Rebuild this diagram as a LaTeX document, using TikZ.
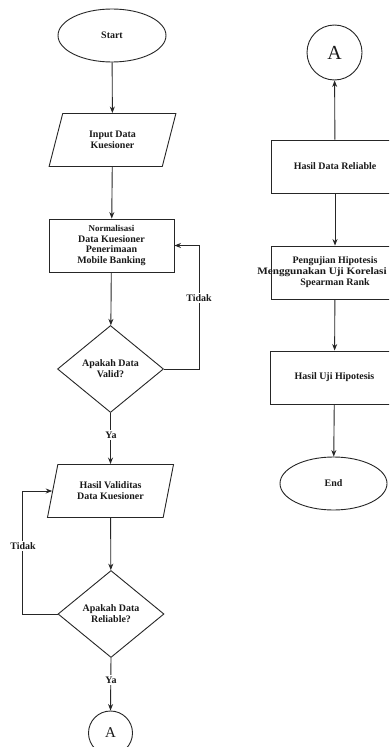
\documentclass[tikz,border=0pt]{standalone}
\usepackage{fontspec}
\setmainfont{Liberation Serif}
\usetikzlibrary{shapes.geometric,arrows.meta}
\begin{document}
\begin{tikzpicture}[x=1bp,y=-1bp,
  every node/.style={font=\bfseries\fontsize{10}{11}\selectfont, align=center, inner sep=0pt, text=black!90},
  ln/.style={draw=black!85, line width=0.9bp},
  arr/.style={ln, -{Stealth[length=6.5bp,width=5bp]}},
  term/.style={ellipse, ln, minimum width=108bp, minimum height=53bp},
  io/.style={trapezium, trapezium left angle=70, trapezium right angle=110, trapezium stretches=true, ln, minimum width=127bp, minimum height=53bp},
  proc/.style={rectangle, ln, minimum width=125bp, minimum height=53bp},
  rproc/.style={rectangle, ln, minimum width=128bp, minimum height=53bp},
  dec/.style={diamond, ln, minimum width=106bp, minimum height=87bp},
  conn/.style={circle, ln, font=\fontsize{15}{15}\selectfont},
  lbl/.style={fill=white, inner sep=1.5bp}
]
\path[use as bounding box] (0,0) rectangle (389,747);
\clip (0,0) rectangle (389,747);
\fill[white] (0,0) rectangle (389,747);

% left column
\node[term] (start) at (112,35.5) {Start};
\node[io] (in) at (112.5,140) {Input Data\\Kuesioner};
\node[proc] (norm) at (111.5,245.5) {\fontsize{9}{10}\selectfont Normalisasi\\Data Kuesioner\\Penerimaan\\Mobile Banking};
\node[dec] (valid) at (110.5,369) {Apakah Data\\Valid?};
\node[io] (hval) at (110.5,491) {Hasil Validitas\\Data Kuesioner};
\node[dec] (rel) at (111,614) {Apakah Data\\Reliable?};
\node[conn, minimum size=44bp] (a1) at (110.5,733) {A};

\draw[arr] (start) -- (in);
\draw[arr] (in) -- (norm);
\draw[arr] (norm) -- (valid);
\draw[arr] (valid.east) -- ++(35,0) |- (norm.east);
\node[lbl] (t1) at (199,298) {Tidak};
\draw[arr] (valid.south) -- (hval.north);
\node[lbl] (y1) at (111,435) {Ya};
\draw[arr] (hval) -- (rel);
\draw[arr] (rel.west) -- ++(-35,0) |- (hval.west);
\node[lbl] (t2) at (23,546) {Tidak};
\draw[arr] (rel.south) -- (a1.north);
\node[lbl] (y2) at (111,680) {Ya};

% right column
\node[conn, minimum size=55bp, font=\fontsize{20}{20}\selectfont] (a2) at (334.5,52.5) {A};
\node[rproc] (hrel) at (335,166.5) {Hasil Data Reliable};
\node[rproc] (uji) at (335,272.5) {Pengujian Hipotesis\\\hspace*{-26bp}\scalebox{1.12}[1]{Menggunakan Uji Korelasi}\\Spearman Rank};
\node[rproc] (huji) at (334.5,377.5) {Hasil Uji Hipotesis};
\node[term, minimum width=107bp] (end) at (333.5,483.5) {End};

\draw[arr] (hrel) -- (a2);
\draw[arr] (hrel) -- (uji);
\draw[arr] (uji) -- (huji);
\draw[arr] (huji) -- (end);
\end{tikzpicture}
\end{document}
